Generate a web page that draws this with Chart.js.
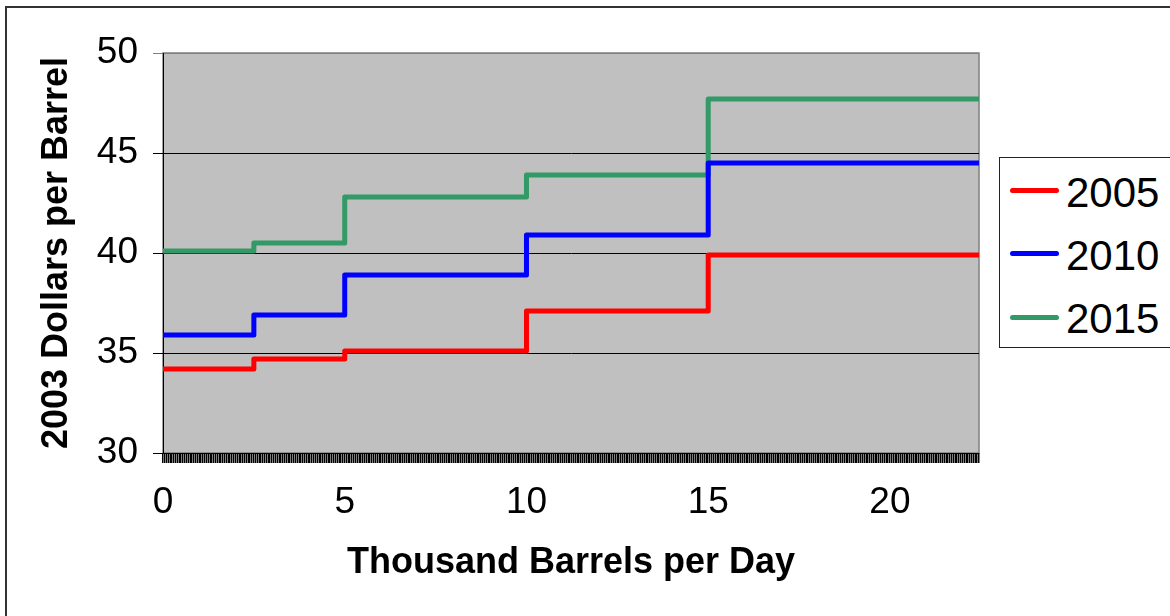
<!DOCTYPE html>
<html>
<head>
<meta charset="utf-8">
<script src="https://cdn.jsdelivr.net/npm/chart.js@4"></script>
<style>
  body { margin: 0; background: #fff; overflow: hidden; font-family: "Liberation Sans", Arial, sans-serif; }
  #frame { position: absolute; left: 5px; top: 6px; width: 1300px; height: 700px; border-left: 2px solid #333; border-top: 2px solid #333; }
  #wrap { position: absolute; left: 0; top: 0; width: 1170px; height: 616px; }
  #legend-container { position: absolute; left: 999px; top: 157px; width: 260px; height: 191px; border: 1px solid #222; box-sizing: border-box; background: #fff; padding-top: 1px; }
  .item { display: flex; align-items: center; height: 63.3px; }
  .swatch { margin-left: 10px; width: 49px; height: 5px; border-radius: 3px; }
  .txt { margin-left: 7px; font-size: 42px; line-height: 1; padding-top: 4px; color: #000; }
</style>
</head>
<body>
<div id="frame"></div>
<div id="wrap"><canvas id="chart"></canvas></div>
<div id="legend-container"></div>
<script>
// step breakpoints (thousand barrels per day) and price levels per year
const breaks = [0, 2.5, 5, 10, 15, 22.45];
const p2005 = [34.2, 34.7, 35.1, 37.1, 39.9];
const p2010 = [35.9, 36.9, 38.9, 40.9, 44.5];
const p2015 = [40.1, 40.5, 42.8, 43.9, 47.7];
const xTickLabels = [0, 5, 10, 15, 20];
const yTicks = [30, 35, 40, 45, 50];

const FONT = '"Liberation Sans", Arial, sans-serif';

function steps(vals) {
    return breaks.map((x, i) => ({ x: x, y: vals[Math.min(i, vals.length - 1)] }));
}

const htmlLegendPlugin = {
    id: 'htmlLegend',
    afterUpdate(chart) {
        const box = document.getElementById('legend-container');
        box.innerHTML = '';
        chart.data.datasets.forEach(ds => {
            const row = document.createElement('div');
            row.className = 'item';
            const sw = document.createElement('span');
            sw.className = 'swatch';
            sw.style.background = ds.borderColor;
            const t = document.createElement('span');
            t.className = 'txt';
            t.textContent = ds.label;
            row.appendChild(sw);
            row.appendChild(t);
            box.appendChild(row);
        });
    }
};

const plotBg = {
    id: 'plotBg',
    beforeDraw(chart) {
        const { ctx, chartArea: a } = chart;
        ctx.save();
        ctx.fillStyle = '#c0c0c0';
        ctx.fillRect(a.left, a.top, a.right - a.left, a.bottom - a.top);
        ctx.strokeStyle = '#808080';
        ctx.lineWidth = 1.5;
        ctx.strokeRect(a.left, a.top, a.right - a.left, a.bottom - a.top);
        ctx.restore();
    }
};

const data = {
    datasets: [
        { label: '2005', data: steps(p2005), borderColor: '#ff0000' },
        { label: '2010', data: steps(p2010), borderColor: '#0000ff' },
        { label: '2015', data: steps(p2015), borderColor: '#339966' }
    ].map(d => Object.assign(d, {
        borderWidth: 5,
        stepped: true,
        pointRadius: 0,
        fill: false,
        borderJoinStyle: 'round'
    }))
};

const config = {
    type: 'line',
    data: data,
    options: {
        responsive: true,
        maintainAspectRatio: false,
        animation: false,
        layout: { padding: { left: 0, top: 53, right: 191, bottom: 0 } },
        scales: {
            x: {
                type: 'linear',
                min: breaks[0],
                max: breaks[breaks.length - 1],
                afterFit: s => { s.height = 163; },
                border: { color: '#000', width: 1 },
                grid: {
                    drawOnChartArea: false,
                    drawTicks: true,
                    tickLength: 10,
                    color: '#000',
                    lineWidth: 1.5
                },
                ticks: {
                    stepSize: 0.05,
                    autoSkip: false,
                    maxRotation: 0,
                    minRotation: 0,
                    padding: 18,
                    color: '#000',
                    font: { family: FONT, size: 37 },
                    callback: v => {
                        const hit = xTickLabels.find(t => Math.abs(t - v) < 1e-6);
                        return hit === undefined ? '' : String(hit);
                    }
                },
                title: {
                    display: true,
                    text: 'Thousand Barrels per Day',
                    color: '#000',
                    font: { family: FONT, size: 36, weight: 'bold' },
                    padding: { top: 0, bottom: 31 }
                }
            },
            y: {
                min: yTicks[0],
                max: yTicks[yTicks.length - 1],
                afterFit: s => { s.width = 163; },
                border: { color: '#000', width: 1 },
                grid: {
                    tickLength: 10,
                    lineWidth: 1,
                    color: ctx => (ctx.tick && ctx.tick.value === 50) ? '#808080' : '#000'
                },
                ticks: {
                    stepSize: 5,
                    padding: 15,
                    color: '#000',
                    font: { family: FONT, size: 37 }
                },
                title: {
                    display: true,
                    text: '2003 Dollars per Barrel',
                    color: '#000',
                    font: { family: FONT, size: 36, weight: 'bold' },
                    padding: { top: 35, bottom: 0 }
                }
            }
        },
        plugins: {
            legend: { display: false },
            tooltip: { enabled: false }
        }
    },
    plugins: [plotBg, htmlLegendPlugin]
};

const ctx = document.getElementById('chart').getContext('2d');
const chart = new Chart(ctx, config);
</script>
</body>
</html>
